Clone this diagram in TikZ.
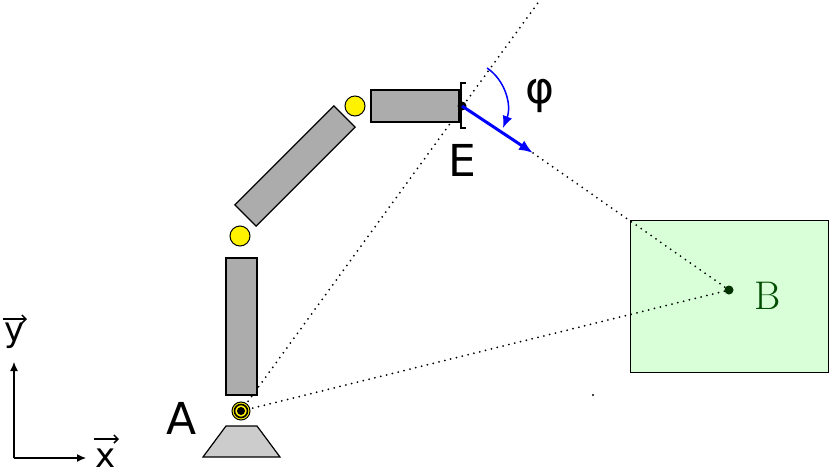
\documentclass[tikz,border=0pt]{standalone}
\usepackage{fontspec}
\setmainfont{DejaVu Sans}
\usetikzlibrary{arrows.meta}
\begin{document}
\begin{tikzpicture}[x=1pt,y=-1pt,
 link/.style={draw=black,fill=gray!65,line width=1.2pt},
 joint/.style={circle,draw=black,fill=yellow,line width=1pt,minimum size=20pt,inner sep=0},
 dots/.style={line width=2pt,line cap=round,dash pattern=on 0pt off 6pt},
 lbl/.style={font=\fontsize{44}{48}\selectfont}]
\useasboundingbox (0,0) rectangle (830,474);
\coordinate (A) at (241,411);
\coordinate (E) at (462,106);
\coordinate (B) at (729,290);
\coordinate (T) at (533,153);
\coordinate (F) at (540,0);
\node[draw=black,fill=green!15,line width=1pt,minimum width=198pt,minimum height=152pt] (box) at (729,296) {};
\draw[dots] (A) -- (F);
\draw[dots] (A) -- (B);
\draw[dots] (T) -- (B);
\fill[green!20!black] (B) circle (4.5);
\node[font=\fontsize{40}{44}\selectfont,text=green!30!black] (Bl) at (768,296) {\fontspec{Latin Modern Roman}B};
\draw[fill=gray!40,line width=1.2pt] (226,426) -- (257,426) -- (280,457) -- (203,457) -- cycle;
\draw[link] (226,258) rectangle (257,395);
\draw[link] (295,166) ++(-45:-70) ++(45:-15) -- ++(-45:140) -- ++(45:30) -- ++(-45:-140) -- cycle;
\draw[link] (371,90) rectangle (459,122);
\node[joint] (j1) at (240,236) {};
\node[joint] (j2) at (355,106) {};
\node[joint,minimum size=18pt] (j0) at (A) {};
\draw[line width=1.6pt] (A) circle (6.5);
\fill (A) circle (4);
\draw[line width=1.5pt] (466,83) -- (461,83) -- (461,128) -- (466,128);
\fill (E) circle (4.5);
\draw[blue,line width=3pt,-{Latex[length=14pt,width=11pt]}] (E) -- (T);
\draw[blue,line width=1.5pt,-{Latex[length=12pt,width=10pt]}] (487,68) .. controls (505,80) and (512,105) .. (503,128);
\node[lbl] (phi) at (540,96) {φ};
\node[lbl] (El) at (462,160) {E};
\node[lbl] (Al) at (182,418) {A};
\coordinate (O) at (14,458);
\coordinate (Y) at (14,362);
\coordinate (X) at (86,458);
\draw[line width=1.2pt,-{Latex[length=9pt,width=8pt]}] (O) -- (Y);
\draw[line width=1.2pt,-{Latex[length=9pt,width=8pt]}] (O) -- (X);
\node[font=\fontsize{34}{36}\selectfont] (yl) at (15,336) {y};
\draw[line width=1.5pt,-{Straight Barb[length=4pt]}] (3,319) -- (27,319);
\node[font=\fontsize{34}{36}\selectfont] (xl) at (106,458) {x};
\draw[line width=1.5pt,-{Straight Barb[length=4pt]}] (94,439) -- (119,439);
\fill (593,395) circle (1.2);
\end{tikzpicture}
\end{document}
